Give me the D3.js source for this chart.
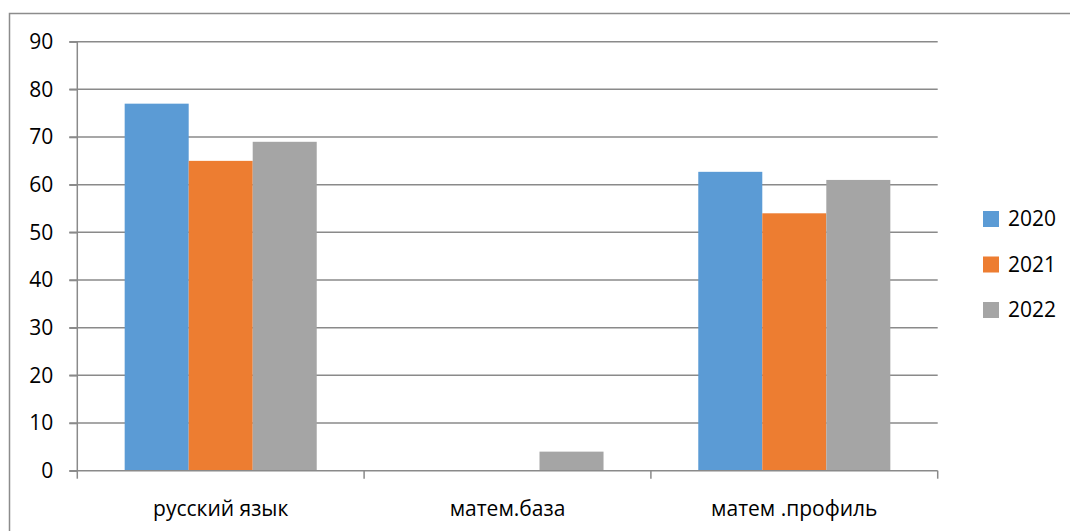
<!DOCTYPE html>
<html>
<head>
<meta charset="utf-8">
<script src="https://cdn.jsdelivr.net/npm/d3@7"></script>
<style>
  body { margin: 0; background: #fff; }
  text { font-family: "Open Sans", sans-serif; fill: #000; }
</style>
</head>
<body>
<div id="chart"></div>
<script>
// data
const categories = ["русский язык", "матем.база", "матем .профиль"];
const years = ["2020", "2021", "2022"];
const values2020 = [77, 0, 62.7];
const values2021 = [65, 0, 54];
const values2022 = [69, 4, 61];
const yTicks = [0, 10, 20, 30, 40, 50, 60, 70, 80, 90];
const colors = ["#5b9bd5", "#ed7d31", "#a5a5a5"];

const seriesValues = [values2020, values2021, values2022];

const svgWidth = 1070;
const svgHeight = 531;

const margin = { top: 41.7, left: 77.3, right: 1070 - 937.7, bottom: 531 - 470.7 };
const chartWidth = svgWidth - margin.left - margin.right;
const chartHeight = svgHeight - margin.top - margin.bottom;

const svg = d3.select("#chart")
  .append("svg")
  .attr("width", svgWidth)
  .attr("height", svgHeight);

// outer frame (runs off the right and bottom edges)
svg.append("rect")
  .attr("x", 9.5)
  .attr("y", 13.5)
  .attr("width", 1200)
  .attr("height", 600)
  .attr("fill", "none")
  .attr("stroke", "#8c8c8c")
  .attr("stroke-width", 1.5);

const chartGroup = svg.append("g")
  .attr("transform", `translate(${margin.left},${margin.top})`);

const yScale = d3.scaleLinear()
  .domain([0, 90])
  .range([chartHeight, 0]);

const xScale = d3.scaleBand()
  .domain(categories)
  .range([0, chartWidth]);

const xInner = d3.scaleBand()
  .domain(years)
  .range([0, xScale.bandwidth()])
  .paddingOuter(0.74);

// gridlines
chartGroup.append("g")
  .selectAll("line")
  .data(yTicks.filter(d => d > 0))
  .enter()
  .append("line")
  .attr("x1", -8)
  .attr("x2", chartWidth)
  .attr("y1", d => yScale(d))
  .attr("y2", d => yScale(d))
  .attr("stroke", "#8a8a8a")
  .attr("stroke-width", 1.5);

// bars
const groups = chartGroup.append("g")
  .selectAll("g")
  .data(years)
  .enter()
  .append("g")
  .attr("fill", (d, i) => colors[i]);

groups.selectAll("rect")
  .data((y, i) => categories.map((c, j) => ({ cat: c, year: y, value: seriesValues[i][j] })))
  .enter()
  .append("rect")
  .filter(d => d.value > 0)
  .attr("x", d => xScale(d.cat) + xInner(d.year))
  .attr("width", xInner.bandwidth())
  .attr("y", d => yScale(d.value))
  .attr("height", d => chartHeight - yScale(d.value));

// y axis
const leftAxis = d3.axisLeft(yScale)
  .tickValues(yTicks)
  .tickSize(8)
  .tickPadding(16);

const yAxis = chartGroup.append("g").call(leftAxis);
yAxis.select(".domain").attr("stroke", "#8a8a8a").attr("stroke-width", 1.5)
  .attr("d", `M0,${chartHeight}V0`);
yAxis.selectAll(".tick line").attr("stroke", "#8a8a8a").attr("stroke-width", 1.5);
yAxis.selectAll("text")
  .style("font-family", "'Open Sans', sans-serif")
  .style("font-size", "21px")
  .attr("fill", "#000");

// x axis
const xAxisG = chartGroup.append("g")
  .attr("transform", `translate(0,${chartHeight})`);

xAxisG.append("line")
  .attr("x1", -8)
  .attr("x2", chartWidth)
  .attr("stroke", "#8a8a8a")
  .attr("stroke-width", 1.5);

xAxisG.selectAll(".xtick")
  .data([0, 1, 2, 3])
  .enter()
  .append("line")
  .attr("x1", d => d * xScale.step())
  .attr("x2", d => d * xScale.step())
  .attr("y1", 0)
  .attr("y2", 8)
  .attr("stroke", "#8a8a8a")
  .attr("stroke-width", 1.5);

xAxisG.selectAll(".xlabel")
  .data(categories)
  .enter()
  .append("text")
  .attr("x", d => xScale(d) + xScale.bandwidth() / 2)
  .attr("y", 45)
  .attr("text-anchor", "middle")
  .style("font-size", "21px")
  .text(d => d);

// legend
const legend = svg.append("g")
  .selectAll("g")
  .data(years)
  .enter()
  .append("g")
  .attr("transform", (d, i) => `translate(983,${211 + i * 45.5})`);

legend.append("rect")
  .attr("width", 16)
  .attr("height", 16)
  .attr("fill", (d, i) => colors[i]);

legend.append("text")
  .attr("x", 25)
  .attr("y", 8)
  .attr("dy", "0.35em")
  .style("font-size", "21px")
  .text(d => d);
</script>
</body>
</html>
